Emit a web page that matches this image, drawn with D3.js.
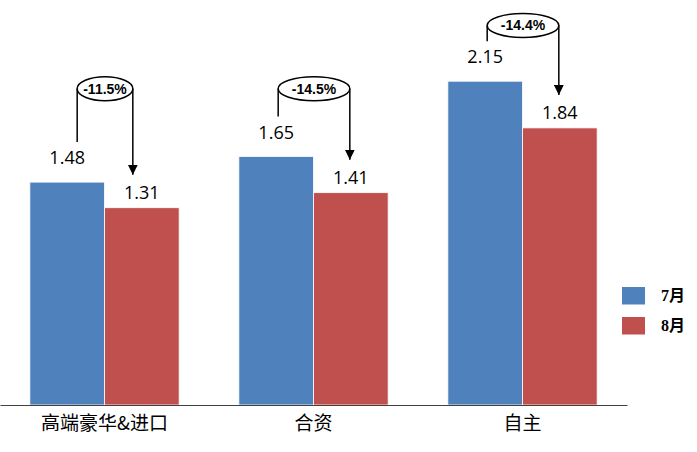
<!DOCTYPE html>
<html><head><meta charset="utf-8">
<script src="https://cdn.jsdelivr.net/npm/d3@7"></script>
<style>body{margin:0;background:#fff;}svg{display:block;}</style>
</head><body>
<script>
const categories = ['高端豪华&进口', '合资', '自主'];
const seriesNames = ['7月', '8月'];
const julValues = [1.48, 1.65, 2.15];
const augValues = [1.31, 1.41, 1.84];
const changeLabels = ['-11.5%', '-14.5%', '-14.4%'];
const annotationLevel = [2.10, 2.10, 2.52];

const W = 697, H = 452;
const colors = ['#4F81BD', '#C0504D'];
const svg = d3.select('body').append('svg').attr('width', W).attr('height', H);

const x0 = d3.scaleBand().domain(categories).range([0, 627]).paddingInner(0).paddingOuter(0);
const x1 = d3.scaleBand().domain(seriesNames).range([0, x0.bandwidth()]).paddingInner(0).paddingOuter(0.4);
const y = d3.scaleLinear().domain([0, 2.5]).range([405, 28.5]);

const rows = categories.map((c, i) => ({cat: c, vals: [julValues[i], augValues[i]], change: changeLabels[i], level: annotationLevel[i]}));

const g = svg.append('g');
rows.forEach(r => {
  r.vals.forEach((v, j) => {
    const bx = x0(r.cat) + x1(seriesNames[j]);
    g.append('rect').attr('x', bx).attr('y', y(v)).attr('width', x1.bandwidth()).attr('height', y(0) - y(v))
      .attr('fill', colors[j]).attr('stroke', '#fff').attr('stroke-width', 0.8);
    g.append('text').attr('x', bx + x1.bandwidth() / 2).attr('y', y(v) - (j === 0 ? 18 : 9))
      .attr('text-anchor', 'middle').attr('font-family', 'Open Sans, sans-serif').attr('font-size', 18)
      .attr('fill', '#000').text(v.toFixed(2));
  });
});

// axis
const axis = d3.axisBottom(x0).tickSize(0).tickPadding(0);
const ax = svg.append('g').attr('transform', 'translate(0,405)').call(axis);
ax.select('.domain').attr('stroke', '#404040').attr('stroke-width', 1.2);
ax.selectAll('text').attr('font-family', 'Noto Sans CJK SC, sans-serif').attr('font-size', 19)
  .attr('fill', '#000').attr('dy', null).attr('y', 25);

// annotations
const defs = svg.append('defs');
defs.append('marker').attr('id', 'arr').attr('viewBox', '0 0 10 10').attr('refX', 10).attr('refY', 5)
  .attr('markerWidth', 10).attr('markerHeight', 10).attr('markerUnits', 'userSpaceOnUse').attr('orient', 'auto')
  .append('path').attr('d', 'M0,0 L10,5 L0,10 Z').attr('fill', '#000');

const an = svg.append('g');
rows.forEach((r, i) => {
  const inset = i === 0 ? 8 : 0;
  const lx = x0(r.cat) + x1(seriesNames[0]) + x1.bandwidth() / 2 + 2 + inset;
  const rx = x0(r.cat) + x1(seriesNames[1]) + x1.bandwidth() / 2 - 1 - inset;
  const cy = y(r.level);
  const cx = (lx + rx) / 2;
  an.append('line').attr('x1', lx).attr('x2', lx).attr('y1', cy).attr('y2', y(r.vals[0]) - 40)
    .attr('stroke', '#000').attr('stroke-width', 1.5);
  an.append('line').attr('x1', rx).attr('x2', rx).attr('y1', cy).attr('y2', y(r.vals[1]) - 33)
    .attr('stroke', '#000').attr('stroke-width', 1.5).attr('marker-end', 'url(#arr)');
  an.append('ellipse').attr('cx', cx).attr('cy', cy).attr('rx', (rx - lx) / 2).attr('ry', 12)
    .attr('fill', '#fff').attr('stroke', '#000').attr('stroke-width', 1.5);
  an.append('text').attr('x', cx).attr('y', cy + 5).attr('text-anchor', 'middle')
    .attr('font-family', 'Liberation Sans, sans-serif').attr('font-weight', 'bold').attr('font-size', 14)
    .attr('fill', '#000').text(r.change);
});

// legend
const lg = svg.append('g').attr('transform', 'translate(622,287)');
seriesNames.forEach((s, j) => {
  lg.append('rect').attr('x', 0).attr('y', j * 30).attr('width', 23).attr('height', 17.5).attr('fill', colors[j]);
  lg.append('text').attr('x', 39).attr('y', j * 30 + 14).attr('font-family', 'Liberation Serif, Noto Sans CJK SC, serif')
    .attr('font-weight', 'bold').attr('font-size', 16).attr('fill', '#000').text(s);
});
</script>
</body></html>
